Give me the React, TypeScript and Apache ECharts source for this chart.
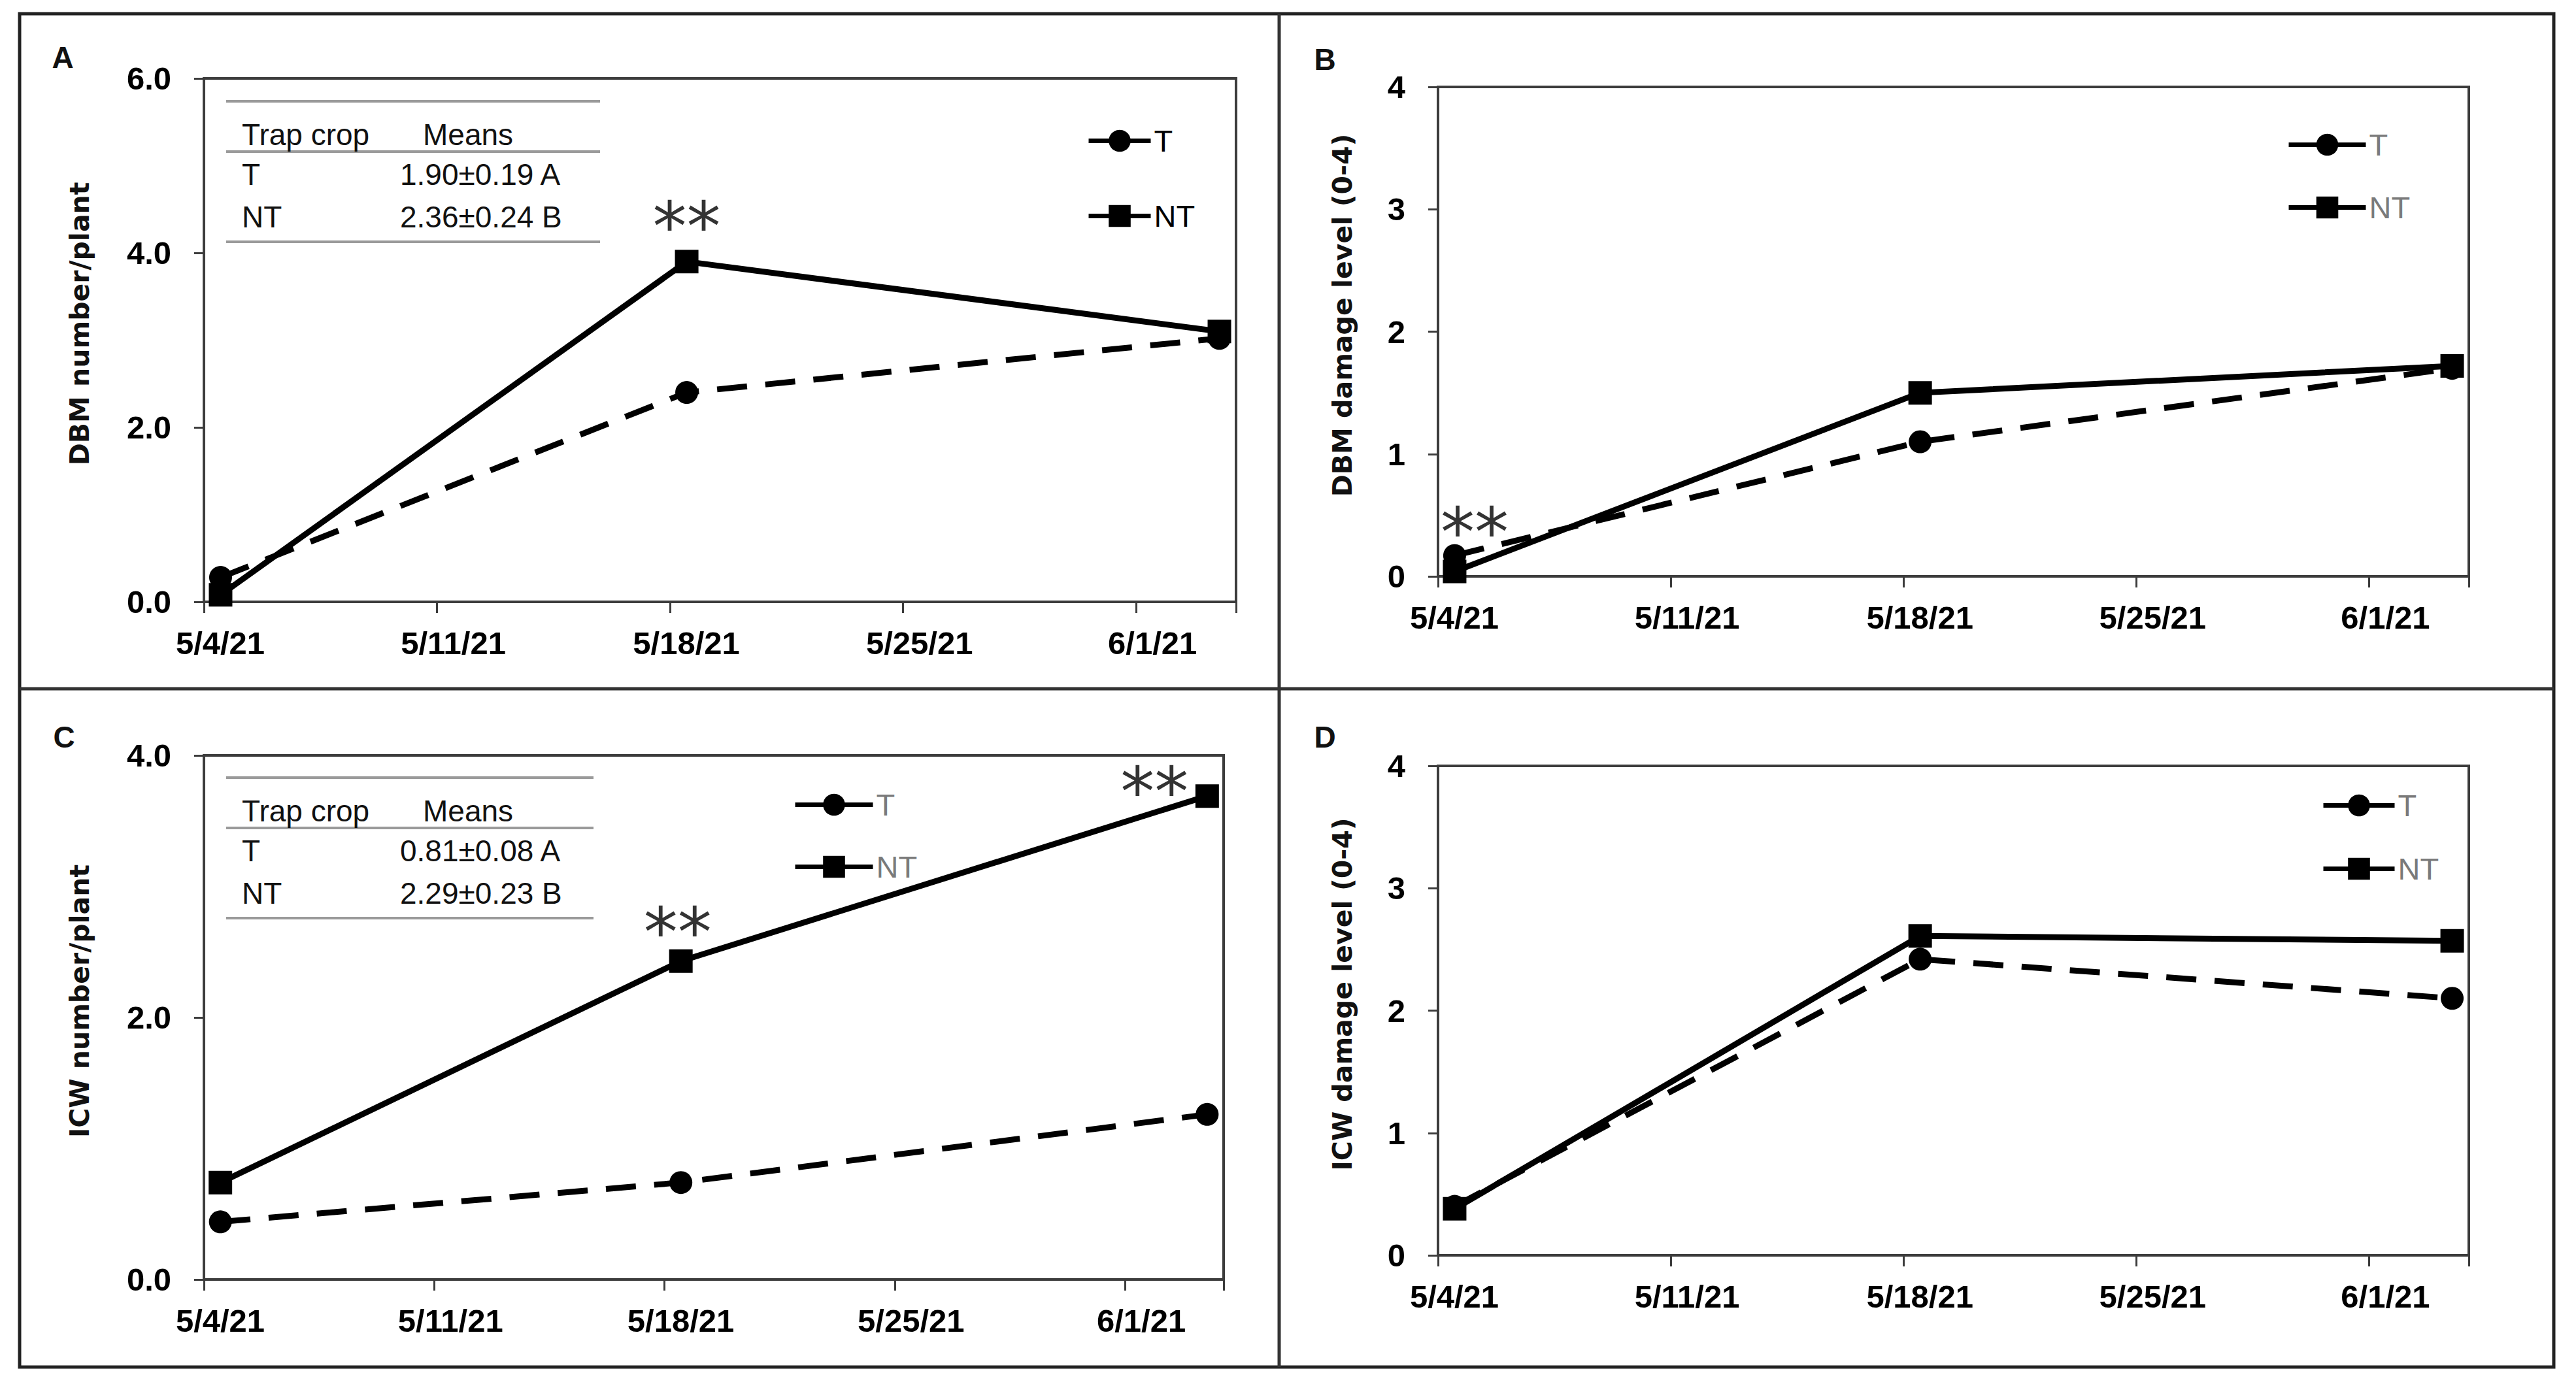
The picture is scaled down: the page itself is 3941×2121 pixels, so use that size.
import React, { useEffect, useRef } from 'react';
import * as echarts from 'echarts';

// ---------- data ----------
const xTickLabels = ['5/4/21', '5/11/21', '5/18/21', '5/25/21', '6/1/21'];
const sampleDates = ['5/4/21', '5/18/21', '6/3/21'];
const sampleDayOffsets = [0, 14, 30];

const dbmNumberT = [0.28, 2.4, 3.02];
const dbmNumberNT = [0.08, 3.9, 3.1];
const dbmDamageT = [0.17, 1.1, 1.7];
const dbmDamageNT = [0.04, 1.5, 1.72];
const icwNumberT = [0.44, 0.74, 1.26];
const icwNumberNT = [0.74, 2.43, 3.69];
const icwDamageT = [0.4, 2.42, 2.1];
const icwDamageNT = [0.38, 2.61, 2.57];

// significance marks "**" (day, value)
const sigA = [[14.5, 4.3]];
const sigB = [[1.1, 0.36]];
const sigC = [[14.4, 2.65], [28.9, 3.72]];
const sigD: number[][] = [];

const tableHeader = ['Trap crop', 'Means'];
const dbmMeansRows = [['T', '1.90±0.19 A'], ['NT', '2.36±0.24 B']];
const icwMeansRows = [['T', '0.81±0.08 A'], ['NT', '2.29±0.23 B']];

const panelLetters = ['A', 'B', 'C', 'D'];
const yTitles = ['DBM number/plant', 'DBM damage level (0-4)', 'ICW number/plant', 'ICW damage level (0-4)'];

// ---------- layout ----------
const FONT = '"Liberation Sans", Arial, sans-serif';
const AXIS_COLOR = '#3c3c3c';

const panels = [
  { grid: { left: 312, top: 120, width: 1579, height: 801 }, yMax: 6, yInt: 2, dec: 1, T: dbmNumberT, NT: dbmNumberNT, sig: sigA,
    legend: { left: 1662, top: 192, itemWidth: 95, itemGap: 68, color: '#000' }, nameGap: 170, letter: [96, 88],
    table: { x0: 346, x1: 918, top: 155, rows: dbmMeansRows } },
  { grid: { left: 2200, top: 133, width: 1577, height: 749 }, yMax: 4, yInt: 1, dec: 0, T: dbmDamageT, NT: dbmDamageNT, sig: sigB,
    legend: { left: 3498, top: 198, itemWidth: 118, itemGap: 49, color: '#7a7a7a' }, nameGap: 126, letter: [2027, 91], table: null },
  { grid: { left: 312, top: 1156, width: 1560, height: 802 }, yMax: 4, yInt: 2, dec: 1, T: icwNumberT, NT: icwNumberNT, sig: sigC,
    legend: { left: 1213, top: 1208, itemWidth: 119, itemGap: 48, color: '#7a7a7a' }, nameGap: 170, letter: [98, 1128],
    table: { x0: 346, x1: 908, top: 1190, rows: icwMeansRows } },
  { grid: { left: 2200, top: 1172, width: 1577, height: 749 }, yMax: 4, yInt: 1, dec: 0, T: icwDamageT, NT: icwDamageNT, sig: sigD,
    legend: { left: 3551, top: 1209, itemWidth: 109, itemGap: 50, color: '#7a7a7a' }, nameGap: 126, letter: [2027, 1128], table: null },
];

function buildOption() {
  const grids: any[] = [];
  const xAxes: any[] = [];
  const yAxes: any[] = [];
  const series: any[] = [];
  const legends: any[] = [];
  const graphics: any[] = [];

  // outer frame and dividers
  graphics.push({ type: 'rect', shape: { x: 30, y: 21, width: 3877, height: 2071 }, style: { fill: 'none', stroke: '#222', lineWidth: 5 }, z: 10 });
  graphics.push({ type: 'line', shape: { x1: 1957, y1: 21, x2: 1957, y2: 2092 }, style: { stroke: '#333', lineWidth: 5 }, z: 10 });
  graphics.push({ type: 'line', shape: { x1: 30, y1: 1054, x2: 3907, y2: 1054 }, style: { stroke: '#333', lineWidth: 5 }, z: 10 });

  panels.forEach((p, i) => {
    grids.push({ ...p.grid, show: true, borderColor: AXIS_COLOR, borderWidth: 4, backgroundColor: 'transparent', containLabel: false });
    xAxes.push({
      type: 'value', gridIndex: i, min: 0, max: 31, interval: 7,
      axisLine: { show: true, lineStyle: { color: AXIS_COLOR, width: 4 } },
      axisTick: { show: true, inside: false, length: 17, lineStyle: { color: AXIS_COLOR, width: 3 } },
      splitLine: { show: false },
      axisLabel: {
        margin: 38,
        formatter: (v: number) => (v % 7 === 0 && v / 7 < xTickLabels.length ? `{l|${xTickLabels[v / 7]}}` : ''),
        rich: { l: { padding: [0, 0, 0, 50], fontSize: 49, fontWeight: 'bold', fontFamily: FONT, color: '#000' } },
      },
    });
    yAxes.push({
      type: 'value', gridIndex: i, min: 0, max: p.yMax, interval: p.yInt,
      axisLine: { show: true, lineStyle: { color: AXIS_COLOR, width: 4 } },
      axisTick: { show: true, inside: false, length: 15, lineStyle: { color: AXIS_COLOR, width: 3 } },
      splitLine: { show: false },
      axisLabel: { margin: 50, fontSize: 49, fontWeight: 'bold', fontFamily: FONT, color: '#000', formatter: (v: number) => v.toFixed(p.dec) },
      name: yTitles[i], nameLocation: 'middle', nameGap: p.nameGap,
      nameTextStyle: { fontFamily: '"DejaVu Sans", sans-serif', fontWeight: 'bold', fontSize: 41, color: '#111', padding: [0, 0, 0, 50] },
    });
    const mk = (vals: number[]) => sampleDayOffsets.map((d, k) => [d + 0.5, vals[k]]);
    series.push({
      name: 'T', type: 'line', xAxisIndex: i, yAxisIndex: i, data: mk(p.T), symbol: 'circle', symbolSize: 35,
      lineStyle: { color: '#000', width: 9, type: [46, 28] }, itemStyle: { color: '#000' }, z: 3,
    });
    series.push({
      name: 'NT', type: 'line', xAxisIndex: i, yAxisIndex: i, data: mk(p.NT), symbol: 'rect', symbolSize: 36,
      lineStyle: { color: '#000', width: 9, type: 'solid' }, itemStyle: { color: '#000' }, z: 4,
    });
    if (p.sig.length) {
      series.push({
        name: 'sig' + i, type: 'scatter', xAxisIndex: i, yAxisIndex: i, data: p.sig, symbolSize: 1,
        itemStyle: { color: 'transparent' },
        label: { show: true, position: 'inside', formatter: '**', fontFamily: '"DejaVu Sans", sans-serif', fontSize: 104, color: '#000' },
        z: 5,
      });
    }
    legends.push({
      data: ['T', 'NT'], orient: 'vertical', left: p.legend.left, top: p.legend.top, padding: 0,
      itemWidth: p.legend.itemWidth, itemHeight: 42, itemGap: p.legend.itemGap, selectedMode: false,
      lineStyle: { type: 'solid', width: 7 },
      textStyle: { fontFamily: FONT, fontSize: 47, color: p.legend.color },
    });
    graphics.push({
      type: 'text', x: p.letter[0], y: p.letter[1],
      style: { text: panelLetters[i], font: `bold 46px ${FONT}`, fill: '#111', align: 'center', verticalAlign: 'middle' },
    });
    if (p.table) {
      const t = p.table;
      [0, 77, 215].forEach((dy) => {
        graphics.push({ type: 'line', shape: { x1: t.x0, y1: t.top + dy, x2: t.x1, y2: t.top + dy }, style: { stroke: '#9a9a9a', lineWidth: 4 } });
      });
      const txt = (s: string, x: number, y: number) => ({
        type: 'text', x, y, style: { text: s, font: `46px ${FONT}`, fill: '#111', align: 'left', verticalAlign: 'middle' },
      });
      graphics.push(txt(tableHeader[0], t.x0 + 24, t.top + 51));
      graphics.push(txt(tableHeader[1], t.x0 + 301, t.top + 51));
      t.rows.forEach((r, k) => {
        graphics.push(txt(r[0], t.x0 + 24, t.top + 112 + k * 65));
        graphics.push(txt(r[1], t.x0 + 266, t.top + 112 + k * 65));
      });
    }
  });

  return {
    animation: false,
    backgroundColor: '#fff',
    grid: grids,
    xAxis: xAxes,
    yAxis: yAxes,
    series,
    legend: legends,
    graphic: { elements: graphics },
  };
}

export default function App() {
  const ref = useRef<HTMLDivElement>(null);
  useEffect(() => {
    if (!ref.current) return;
    const chart = echarts.init(ref.current, undefined, { renderer: 'svg' });
    chart.setOption(buildOption() as any);
    return () => chart.dispose();
  }, []);
  return <div ref={ref} style={{ position: 'absolute', left: 0, top: 0, width: '3941px', height: '2121px', background: '#fff' }} />;
}
